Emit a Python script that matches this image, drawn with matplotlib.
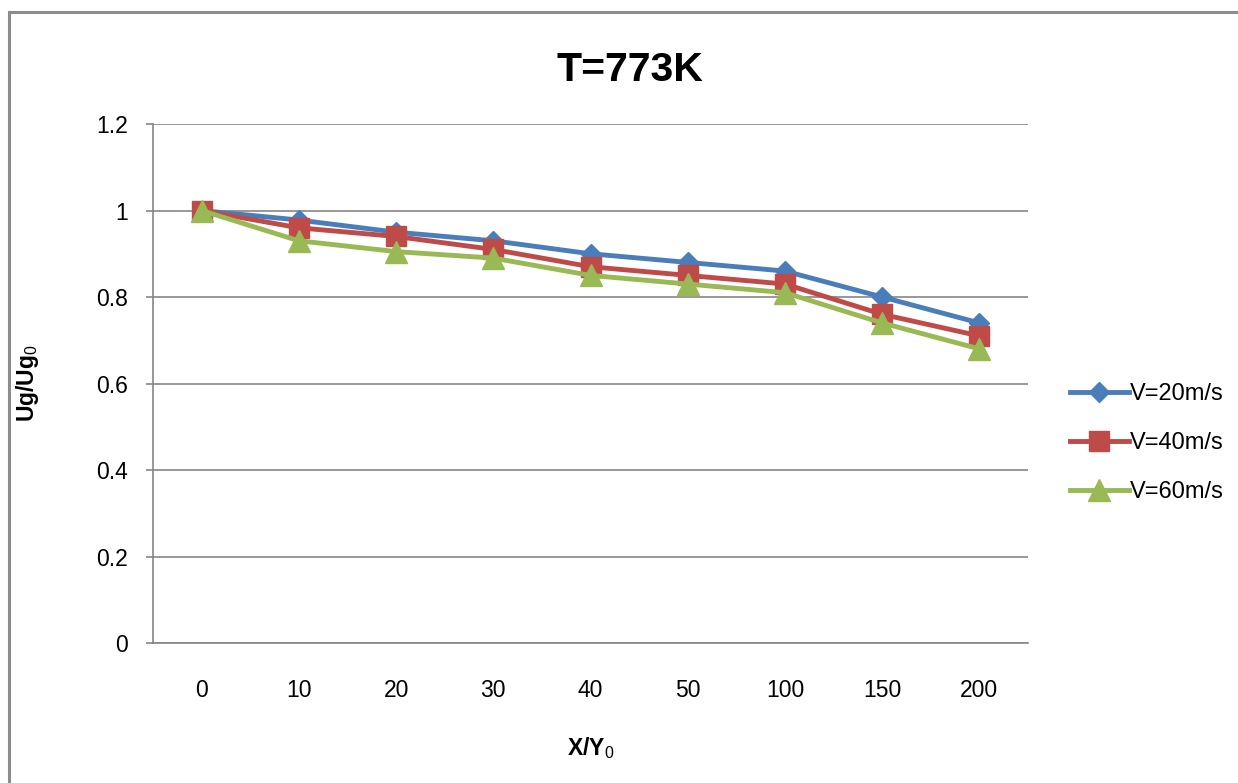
import matplotlib
matplotlib.use('Agg')
import matplotlib.pyplot as plt
from matplotlib.patches import Rectangle

plt.rcParams['font.family'] = ['Liberation Sans', 'DejaVu Sans']
plt.rcParams['mathtext.fontset'] = 'custom'
plt.rcParams['mathtext.rm'] = 'Liberation Sans'
plt.rcParams['mathtext.bf'] = 'Liberation Sans:bold'

# distance ratio categories and normalised velocity per inlet speed
categories = ['0', '10', '20', '30', '40', '50', '100', '150', '200']
v20 = [1.0, 0.978, 0.95, 0.93, 0.90, 0.88, 0.86, 0.80, 0.74]
v40 = [1.0, 0.96, 0.94, 0.91, 0.87, 0.85, 0.83, 0.76, 0.71]
v60 = [1.0, 0.93, 0.905, 0.89, 0.85, 0.83, 0.81, 0.74, 0.68]
labels = ['V=20m/s', 'V=40m/s', 'V=60m/s']
y_ticks = [0, 0.2, 0.4, 0.6, 0.8, 1.0, 1.2]
y_ticklabels = ['0', '0.2', '0.4', '0.6', '0.8', '1', '1.2']

fig = plt.figure(figsize=(12.38, 7.83), dpi=100)
ax = fig.add_axes([0.1236, 0.1788, 0.7068, 0.6628])

x = list(range(len(categories)))
ax.plot(x, v20, color='#4A7EBB', lw=3.5, marker='D', ms=10, label=labels[0], zorder=3)
ax.plot(x, v40, color='#BE4B48', lw=3.5, marker='s', ms=15, label=labels[1], zorder=4)
ax.plot(x, v60, color='#98B954', lw=3.5, marker='^', ms=16, label=labels[2], zorder=5)

ax.set_xlim(-0.5, len(categories) - 0.5)
ax.set_ylim(0, 1.2)
ax.set_xticks(x)
ax.set_xticklabels(categories, fontsize=16.5)
ax.set_yticks(y_ticks)
ax.set_yticklabels(y_ticklabels, fontsize=16.5)
ax.tick_params(axis='x', length=0, pad=26)
ax.tick_params(axis='y', length=5, width=1.2, color='#868686', pad=13)

ax.grid(axis='y', color='#868686', lw=1.2)
ax.set_axisbelow(True)
for s in ['top', 'right']:
    ax.spines[s].set_visible(False)
for s in ['left', 'bottom']:
    ax.spines[s].set_color('#868686')
    ax.spines[s].set_linewidth(1.2)

ax.set_xlabel(r'X/Y$_0$', fontsize=16.5, fontweight='bold')
ax.xaxis.set_label_coords(0.5, -0.177)
ax.set_ylabel(r'Ug/Ug$_0$', fontsize=16.5, fontweight='bold')
ax.yaxis.set_label_coords(-0.128, 0.5)

fig.text(0.509, 0.91, 'T=773K', ha='center', va='center', fontsize=29.5, fontweight='bold')

ax.legend(loc='center left', bbox_to_anchor=(0.847, 0.434), bbox_transform=fig.transFigure,
          frameon=False, fontsize=17, handlelength=2.5, handletextpad=0.05, labelspacing=1.15)

# chart-area frame
fig.patches.append(Rectangle((9 / 1238, -0.1), 1.2, 1 - 12 / 783 + 0.1, transform=fig.transFigure,
                             fill=False, edgecolor='#8c8c8c', lw=2.2))

fig.savefig('out.png', dpi=100)
